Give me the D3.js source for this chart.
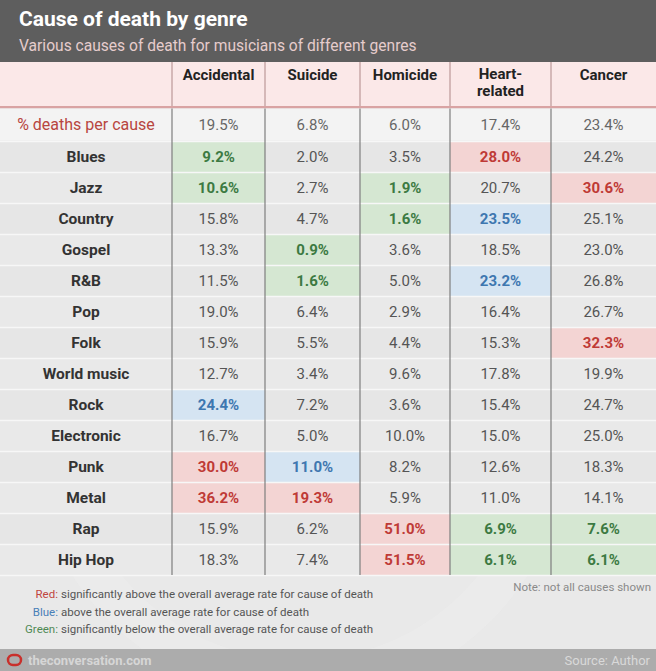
<!DOCTYPE html>
<html><head><meta charset="utf-8">
<script src="https://cdn.jsdelivr.net/npm/d3@7"></script>
<style>
html,body{margin:0;padding:0;background:#e9e9e9;}
svg{display:block;font-family:'Liberation Sans Narrow','Arial Narrow',Roboto,sans-serif;}
</style></head>
<body><svg id="c" width="656" height="671"></svg>
<script>
const title = "Cause of death by genre";
const subtitle = "Various causes of death for musicians of different genres";
const causes = ["Accidental","Suicide","Homicide","Heart-related","Cancer"];
const causeLabels = [["Accidental"],["Suicide"],["Homicide"],["Heart-","related"],["Cancer"]];
const overallLabel = "% deaths per cause";
const overall = [19.5, 6.8, 6.0, 17.4, 23.4];
const genres = ["Blues","Jazz","Country","Gospel","R&B","Pop","Folk","World music","Rock","Electronic","Punk","Metal","Rap","Hip Hop"];
const accidental = [9.2,10.6,15.8,13.3,11.5,19.0,15.9,12.7,24.4,16.7,30.0,36.2,15.9,18.3];
const suicide    = [2.0,2.7,4.7,0.9,1.6,6.4,5.5,3.4,7.2,5.0,11.0,19.3,6.2,7.4];
const homicide   = [3.5,1.9,1.6,3.6,5.0,2.9,4.4,9.6,3.6,10.0,8.2,5.9,51.0,51.5];
const heart      = [28.0,20.7,23.5,18.5,23.2,16.4,15.3,17.8,15.4,15.0,12.6,11.0,6.9,6.1];
const cancer     = [24.2,30.6,25.1,23.0,26.8,26.7,32.3,19.9,24.7,25.0,18.3,14.1,7.6,6.1];
// highlight: r = significantly above, b = above, g = significantly below, "" = none
const accidentalFlag = ["g","g","","","","","","","b","","r","r","",""];
const suicideFlag    = ["","","","g","g","","","","","","b","r","",""];
const homicideFlag   = ["","g","g","","","","","","","","","","r","r"];
const heartFlag      = ["r","","b","","b","","","","","","","","g","g"];
const cancerFlag     = ["","r","","","","","r","","","","","","g","g"];
const legend = [["Red","significantly above the overall average rate for cause of death"],
                ["Blue","above the overall average rate for cause of death"],
                ["Green","significantly below the overall average rate for cause of death"]];
const note = "Note: not all causes shown";
const brand = "theconversation.com";
const source = "Source: Author";

const values = [accidental, suicide, homicide, heart, cancer];
const flags = [accidentalFlag, suicideFlag, homicideFlag, heartFlag, cancerFlag];

const W = 656, H = 671;
const svg = d3.select("#c");
const colEdges = [0,172,265,360,450,551,656];
const cellBg = {r:"#f3d4d3", b:"#d5e4f2", g:"#d5e7d2"};
const cellFg = {r:"#bf3a36", b:"#3e77b0", g:"#3c7a42"};
const legendColor = {Red:"#c0453f", Blue:"#4a80b8", Green:"#4f8a55"};

// scales
const keys = ["label"].concat(causes);
const x = d3.scaleOrdinal().domain(keys).range(colEdges.slice(0,6));
const xw = c => { const i = keys.indexOf(c); return colEdges[i+1]-colEdges[i]; };
const y = d3.scaleBand().domain(genres).range([141, 575]).paddingInner(0);

// background
svg.append("rect").attr("width",W).attr("height",H).attr("fill","#e9e9e9");
svg.append("circle").attr("cx",300).attr("cy",430).attr("r",250).attr("fill","none")
  .attr("stroke","#f2f2f2").attr("stroke-width",40).attr("opacity",0.25);

// title bar
svg.append("rect").attr("width",W).attr("height",62).attr("fill","#5e5e5e");
svg.append("text").attr("x",19).attr("y",26).attr("fill","#ffffff").attr("font-size",21)
  .attr("font-weight","bold").text(title);
svg.append("text").attr("x",19).attr("y",51).attr("fill","#e6cccc").attr("font-size",15.6).text(subtitle);

// header row
svg.append("rect").attr("x",0).attr("y",62).attr("width",W).attr("height",45).attr("fill","#fbe8e8");
causes.forEach((c,i)=>{
  const cx = x(c) + xw(c)/2;
  const lines = causeLabels[i];
  const t = svg.append("text").attr("text-anchor","middle").attr("font-size",15).attr("font-weight","bold").attr("fill","#222");
  if (lines.length===1) t.append("tspan").attr("x",cx).attr("y",80).text(lines[0]);
  else lines.forEach((l,j)=>t.append("tspan").attr("x",cx).attr("y",79+j*17).text(l));
});
svg.append("rect").attr("x",0).attr("y",106).attr("width",W).attr("height",2.5).attr("fill","#d9a3a3");

// overall row
svg.append("rect").attr("x",0).attr("y",108.5).attr("width",W).attr("height",32).attr("fill","#f3f3f3");
svg.append("text").attr("x",x("label")+xw("label")/2).attr("y",130).attr("text-anchor","middle")
  .attr("font-size",16).attr("fill","#b8463f").text(overallLabel);
causes.forEach((c,i)=>{
  svg.append("text").attr("x",x(c)+xw(c)/2).attr("y",130).attr("text-anchor","middle")
    .attr("font-size",15).attr("fill","#666").text(overall[i].toFixed(1)+"%");
});

// genre rows
const rows = svg.append("g");
genres.forEach((g,ri)=>{
  rows.append("rect").attr("x",0).attr("y",y(g)).attr("width",W).attr("height",y.bandwidth())
    .attr("fill", ri%2===0 ? "#e6e6e6" : "#e9e9e9");
});
causes.forEach((c,ci)=>{
  genres.forEach((g,ri)=>{
    const f = flags[ci][ri];
    if (f) rows.append("rect").attr("x",x(c)).attr("y",y(g)).attr("width",xw(c)).attr("height",y.bandwidth()).attr("fill",cellBg[f]);
  });
});
genres.forEach(g=>{
  rows.append("line").attr("x1",0).attr("x2",W).attr("y1",y(g)+0.5).attr("y2",y(g)+0.5)
    .attr("stroke","#f7f7f7").attr("stroke-width",1.5);
});
rows.append("line").attr("x1",0).attr("x2",W).attr("y1",575.5).attr("y2",575.5).attr("stroke","#f7f7f7").attr("stroke-width",1.5);
genres.forEach(g=>{
  rows.append("text").attr("x",x("label")+xw("label")/2).attr("y",y(g)+y.bandwidth()/2+5.5)
    .attr("text-anchor","middle").attr("font-size",15.5).attr("font-weight","bold").attr("fill","#333").text(g);
});
causes.forEach((c,ci)=>{
  genres.forEach((g,ri)=>{
    const f = flags[ci][ri];
    rows.append("text").attr("x",x(c)+xw(c)/2).attr("y",y(g)+y.bandwidth()/2+5.5)
      .attr("text-anchor","middle").attr("font-size",15)
      .attr("font-weight", f ? "bold" : "normal")
      .attr("fill", f ? cellFg[f] : "#555").text(values[ci][ri].toFixed(1)+"%");
  });
});

// vertical lines
colEdges.slice(1,6).forEach(e=>{
  svg.append("line").attr("x1",e).attr("x2",e).attr("y1",62).attr("y2",106).attr("stroke","#c9a9a9").attr("stroke-width",1.5);
  svg.append("line").attr("x1",e).attr("x2",e).attr("y1",108.5).attr("y2",575).attr("stroke","#7e7e7e").attr("stroke-width",1.2);
});

// legend
legend.forEach((l,i)=>{
  svg.append("text").attr("x",58).attr("y",598+i*17.5).attr("font-size",11.5).attr("text-anchor","end")
    .attr("fill",legendColor[l[0]]).text(l[0]+":");
  svg.append("text").attr("x",61).attr("y",598+i*17.5).attr("font-size",11.5).attr("fill","#555").text(l[1]);
});
svg.append("text").attr("x",651).attr("y",591).attr("text-anchor","end").attr("font-size",11.5).attr("fill","#8a8a8a").text(note);

// footer
svg.append("rect").attr("x",0).attr("y",649).attr("width",W).attr("height",22).attr("fill","#acacac");
svg.append("rect").attr("x",8).attr("y",655).attr("width",13).attr("height",10).attr("rx",5).attr("fill","none")
  .attr("stroke","#c9302c").attr("stroke-width",2.5);
svg.append("text").attr("x",28).attr("y",665).attr("font-size",13).attr("font-weight","bold").attr("fill","#d6d6d6").text(brand);
svg.append("text").attr("x",650).attr("y",665).attr("text-anchor","end").attr("font-size",13).attr("fill","#d9d9d9").text(source);
</script></body></html>
